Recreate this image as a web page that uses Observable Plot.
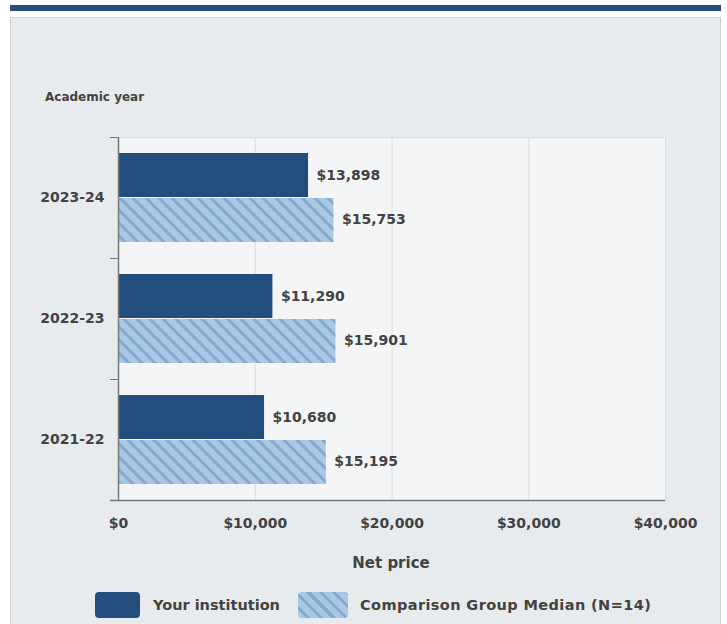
<!DOCTYPE html>
<html>
<head>
<meta charset="utf-8">
<script src="https://cdn.jsdelivr.net/npm/d3@7"></script>
<script src="https://cdn.jsdelivr.net/npm/@observablehq/plot@0.6"></script>
<style>
  html, body { margin: 0; padding: 0; background: #ffffff; width: 727px; height: 624px; overflow: hidden; }
  body { font-family: "DejaVu Sans", sans-serif; color: #424242; position: relative; }
  #topbar { position: absolute; left: 10px; top: 5px; width: 711px; height: 6px; background: #2b4d7b; }
  #panel { position: absolute; left: 10px; top: 17px; width: 711px; height: 620px; background: #e8ebee; border: 1px solid #cfd1d3; box-sizing: border-box; }
  #chart { position: absolute; left: 0; top: 0; }
  .lbl { position: absolute; font-size: 13px; color: #424242; white-space: nowrap; line-height: 16px; }
  .sw { position: absolute; border-radius: 4px; }
</style>
</head>
<body>
<div id="topbar"></div>
<div id="panel"></div>
<div class="lbl" style="left:45px; top:89px; font-weight:bold; font-size:12px;">Academic year</div>
<div id="chart"></div>
<div class="lbl" style="left:331px; top:555px; width:120px; text-align:center; font-weight:bold; font-size:15px;">Net price</div>
<div class="sw" style="left:95px; top:592px; width:45px; height:26px; background:#234d7c;"></div>
<div class="lbl" style="left:153px; top:597px; font-weight:bold; font-size:14.5px;">Your institution</div>
<div class="sw" style="left:298px; top:592px; width:50px; height:26px; background: repeating-linear-gradient(45deg, #a9c8e4 0px, #a9c8e4 6px, #86aacd 6px, #86aacd 9px);"></div>
<div class="lbl" style="left:360px; top:597px; font-weight:bold; font-size:14.5px; letter-spacing:0.4px;">Comparison Group Median (N=14)</div>
<script>
const years = ["2023-24", "2022-23", "2021-22"];
const institution = [13898, 11290, 10680];
const comparison = [15753, 15901, 15195];
const xTicks = [0, 10000, 20000, 30000, 40000];
const xDomain = [0, 40000];

const instData = years.map((y, i) => ({year: y, value: institution[i]}));
const compData = years.map((y, i) => ({year: y, value: comparison[i]}));

const W = 727, H = 540, mL = 118, mR = 62, mT = 137, mB = 40;
const band = (H - mT - mB) / years.length;
const pxPerUnit = (W - mL - mR) / (xDomain[1] - xDomain[0]);
const tickLen = 8 / pxPerUnit;
const fmt = d3.format("$,");
const txt = "#424242";

const chart = Plot.plot({
  width: W, height: H,
  marginLeft: mL, marginRight: mR, marginTop: mT, marginBottom: mB,
  style: {background: "transparent", fontFamily: "'DejaVu Sans', sans-serif", fontSize: "14px", fontWeight: "bold", color: txt},
  x: {domain: xDomain, ticks: xTicks, tickFormat: fmt, label: null},
  y: {domain: years, padding: 0, label: null},
  marks: [
    Plot.frame({fill: "#f4f5f6", stroke: "#dcdee0"}),
    Plot.ruleX(xTicks.slice(1), {stroke: "#dcdcdc"}),
    Plot.barX(compData, {x: "value", y: "year", fill: "url(#hatch)", insetTop: 61, insetBottom: 16}),
    Plot.barX(instData, {x: "value", y: "year", fill: "#234d7c", insetTop: 16, insetBottom: 61}),
    Plot.text(instData, {x: "value", y: "year", text: d => fmt(d.value), dx: 8, dy: -22, textAnchor: "start", fill: txt, fontSize: 14, fontWeight: "bold"}),
    Plot.text(compData, {x: "value", y: "year", text: d => fmt(d.value), dx: 8, dy: 22, textAnchor: "start", fill: txt, fontSize: 14, fontWeight: "bold"}),
    Plot.ruleX([0], {stroke: "#777", strokeWidth: 1.5}),
    Plot.ruleY(years, {y: d => d, dy: -band / 2, x1: -tickLen, x2: 0, stroke: "#777"}),
    Plot.ruleY(years.slice(-1), {y: d => d, dy: band / 2, x1: -tickLen, x2: xDomain[1], stroke: "#777", strokeWidth: 1.5}),
    Plot.axisX({ticks: xTicks, tickFormat: fmt, tickSize: 0, tickPadding: 18, label: null, fontSize: 14, fontWeight: "bold", fill: txt}),
    Plot.axisY({tickSize: 0, tickPadding: 14, label: null, fontSize: 14, fontWeight: "bold", fill: txt})
  ]
});

const svg = d3.select(chart);
const defs = svg.insert("defs", ":first-child");
const pat = defs.append("pattern")
  .attr("id", "hatch").attr("patternUnits", "userSpaceOnUse")
  .attr("width", 13).attr("height", 13);
pat.append("rect").attr("width", 13).attr("height", 13).attr("fill", "#a9c8e4");
pat.append("path")
  .attr("d", "M0,0 L13,13 M-4,9 L4,17 M9,-4 L17,4")
  .attr("stroke", "#86aacd").attr("stroke-width", 3);

document.getElementById("chart").appendChild(chart);
</script>
</body>
</html>
